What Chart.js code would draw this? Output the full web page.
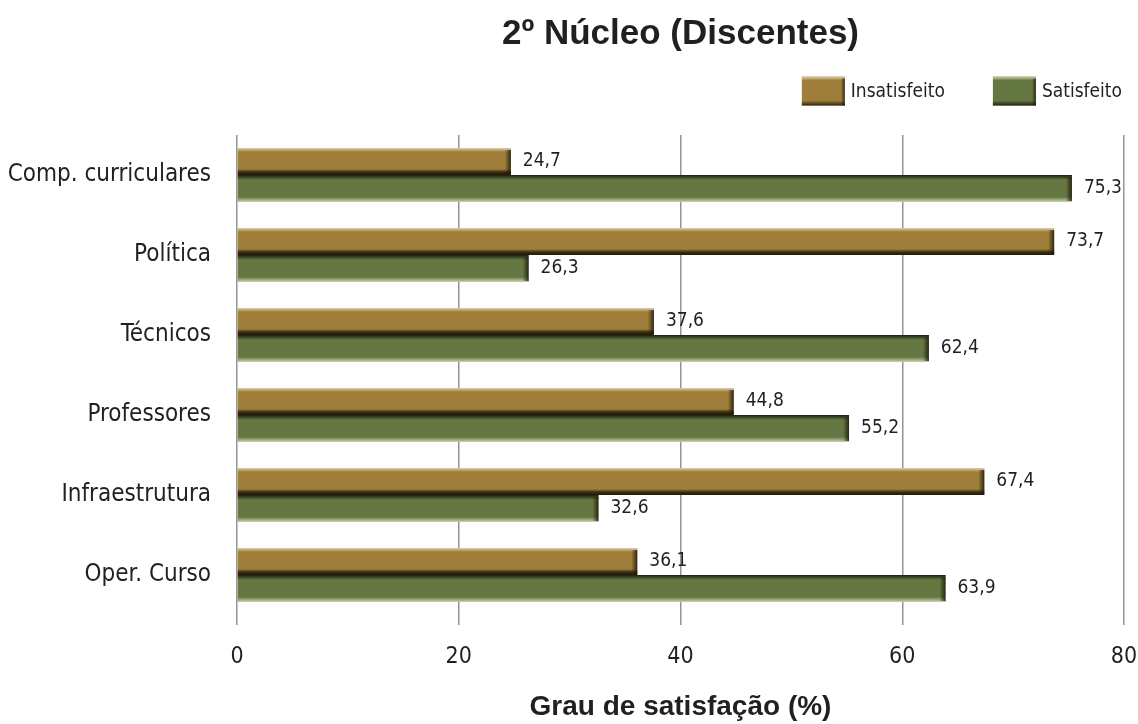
<!DOCTYPE html>
<html lang="pt">
<head>
<meta charset="utf-8">
<title>2º Núcleo (Discentes)</title>
<script src="https://cdn.jsdelivr.net/npm/chart.js@4/dist/chart.umd.min.js"></script>
<style>
  html, body { margin: 0; padding: 0; background: #ffffff; }
  #wrap { width: 1138px; height: 724px; }
</style>
</head>
<body>
<div id="wrap"><canvas id="chart"></canvas></div>
<script>
// Categories (top to bottom) and the share of respondents per answer, in %
const categories = ['Comp. curriculares', 'Política', 'Técnicos', 'Professores', 'Infraestrutura', 'Oper. Curso'];
const insatisfeito = [24.7, 73.7, 37.6, 44.8, 67.4, 36.1];
const satisfeito = [75.3, 26.3, 62.4, 55.2, 32.6, 63.9];
const xTicks = [0, 20, 40, 60, 80];

const NARROW = "'Liberation Sans Narrow', 'Arial Narrow', 'DejaVu Sans Condensed', sans-serif";
const BOLD = "'Liberation Sans', Arial, sans-serif";
const TEXT = '#231f20';
const GRID = '#949494';
const GOLD = '#9e7e3a';
const GREEN = '#657841';

// Bevel / shadow shading laid over each bar
const bevelPlugin = {
  id: 'bevel',
  afterDatasetsDraw(chart) {
    const ctx = chart.ctx;
    chart.data.datasets.forEach((ds, di) => {
      const meta = chart.getDatasetMeta(di);
      if (meta.hidden) return;
      meta.data.forEach(el => {
        const p = el.getProps(['x', 'y', 'base', 'height'], true);
        const left = Math.min(p.base, p.x), right = Math.max(p.base, p.x);
        const top = p.y - p.height / 2, bottom = p.y + p.height / 2;
        const w = right - left;
        ctx.save();
        let g;
        if (di === 0) {
          g = ctx.createLinearGradient(0, top, 0, top + 4);
          g.addColorStop(0, 'rgba(235,220,185,0.85)');
          g.addColorStop(1, 'rgba(235,220,185,0)');
          ctx.fillStyle = g; ctx.fillRect(left, top, w, 4);
          g = ctx.createLinearGradient(0, bottom - 6, 0, bottom);
          g.addColorStop(0, 'rgba(35,26,8,0)');
          g.addColorStop(0.5, 'rgba(35,26,8,0.8)');
          g.addColorStop(1, 'rgba(25,18,5,0.95)');
          ctx.fillStyle = g; ctx.fillRect(left, bottom - 6, w, 6);
        } else {
          g = ctx.createLinearGradient(0, top, 0, top + 5);
          g.addColorStop(0, 'rgba(25,25,10,0.95)');
          g.addColorStop(1, 'rgba(25,25,10,0)');
          ctx.fillStyle = g; ctx.fillRect(left, top, w, 5);
          g = ctx.createLinearGradient(0, bottom - 5, 0, bottom);
          g.addColorStop(0, 'rgba(220,226,205,0)');
          g.addColorStop(1, 'rgba(220,226,205,0.85)');
          ctx.fillStyle = g; ctx.fillRect(left, bottom - 5, w, 5);
        }
        g = ctx.createLinearGradient(right - 6, 0, right, 0);
        g.addColorStop(0, 'rgba(30,24,8,0)');
        g.addColorStop(1, 'rgba(30,24,8,0.85)');
        ctx.fillStyle = g; ctx.fillRect(right - 6, top + 2, 6, p.height - 3);
        ctx.restore();
      });
    });
  }
};

// Value labels to the right of each bar
const valueLabelPlugin = {
  id: 'valueLabels',
  afterDatasetsDraw(chart) {
    const ctx = chart.ctx;
    ctx.save();
    ctx.font = '19px ' + NARROW;
    ctx.fillStyle = TEXT;
    ctx.textAlign = 'left';
    ctx.textBaseline = 'middle';
    chart.data.datasets.forEach((ds, di) => {
      const meta = chart.getDatasetMeta(di);
      meta.data.forEach((el, i) => {
        const p = el.getProps(['x', 'y'], true);
        const txt = ds.data[i].toFixed(1).replace('.', ',');
        ctx.fillText(txt, p.x + 12, p.y);
      });
    });
    ctx.restore();
  }
};

// Legend swatches with a bevelled look, top right above the plot
const legendPlugin = {
  id: 'bevelLegend',
  afterDraw(chart) {
    const ctx = chart.ctx;
    const area = chart.chartArea;
    const boxW = 43, boxH = 29, gapText = 6, gapItem = 48;
    const cy = 91;
    ctx.save();
    ctx.font = '19px ' + NARROW;
    ctx.textBaseline = 'middle';
    ctx.textAlign = 'left';
    const items = chart.data.datasets.map(ds => ({ text: ds.label, color: ds.backgroundColor }));
    const widths = items.map(it => boxW + gapText + ctx.measureText(it.text).width);
    const total = widths.reduce((a, b) => a + b, 0) + gapItem * (items.length - 1);
    let x = area.right - 2 - total;
    items.forEach((it, i) => {
      const top = cy - boxH / 2;
      ctx.fillStyle = it.color;
      ctx.fillRect(x, top, boxW, boxH);
      let g = ctx.createLinearGradient(0, top, 0, top + 4);
      g.addColorStop(0, 'rgba(240,228,200,0.8)');
      g.addColorStop(1, 'rgba(240,228,200,0)');
      ctx.fillStyle = g; ctx.fillRect(x, top, boxW, 4);
      g = ctx.createLinearGradient(0, top + boxH - 5, 0, top + boxH);
      g.addColorStop(0, 'rgba(30,24,8,0)');
      g.addColorStop(1, 'rgba(30,24,8,0.9)');
      ctx.fillStyle = g; ctx.fillRect(x, top + boxH - 5, boxW, 5);
      g = ctx.createLinearGradient(x + boxW - 4, 0, x + boxW, 0);
      g.addColorStop(0, 'rgba(30,24,8,0)');
      g.addColorStop(1, 'rgba(30,24,8,0.8)');
      ctx.fillStyle = g; ctx.fillRect(x + boxW - 4, top + 2, 4, boxH - 2);
      ctx.fillStyle = TEXT;
      ctx.fillText(it.text, x + boxW + gapText, cy + 1);
      x += widths[i] + gapItem;
    });
    ctx.restore();
  }
};

new Chart(document.getElementById('chart'), {
  type: 'bar',
  data: {
    labels: categories,
    datasets: [
      { label: 'Insatisfeito', data: insatisfeito, backgroundColor: GOLD, borderWidth: 0 },
      { label: 'Satisfeito', data: satisfeito, backgroundColor: GREEN, borderWidth: 0 }
    ]
  },
  options: {
    indexAxis: 'y',
    responsive: true,
    maintainAspectRatio: false,
    animation: false,
    layout: { padding: { top: 0, right: 14, bottom: 0, left: 0 } },
    datasets: { bar: { categoryPercentage: 0.675, barPercentage: 1.0 } },
    plugins: {
      legend: { display: false },
      tooltip: { enabled: false },
      title: {
        display: true,
        text: '2º Núcleo (Discentes)',
        fullSize: false,
        color: TEXT,
        font: { family: BOLD, size: 35, weight: 'bold' },
        padding: { top: 13, bottom: 80 }
      }
    },
    scales: {
      x: {
        min: 0,
        max: 80,
        afterBuildTicks(scale) { scale.ticks = xTicks.map(v => ({ value: v })); },
        afterFit(scale) {
          scale.height = 109;
          scale.paddingLeft = 0;
          scale.paddingRight = 0;
        },
        grid: { color: GRID, lineWidth: 1.5, drawTicks: true, tickLength: 10, tickColor: GRID },
        border: { display: false },
        ticks: { color: TEXT, font: { family: NARROW, size: 23 }, padding: 18 },
        title: {
          display: true,
          text: 'Grau de satisfação (%)',
          color: TEXT,
          font: { family: BOLD, size: 28, weight: 'bold' },
          padding: { top: 0, bottom: 0 }
        }
      },
      y: {
        afterFit(scale) { scale.width = 237; },
        grid: { display: false, drawTicks: false },
        border: { display: false },
        ticks: { color: TEXT, font: { family: NARROW, size: 24 }, padding: 26 }
      }
    }
  },
  plugins: [bevelPlugin, valueLabelPlugin, legendPlugin]
});
</script>
</body>
</html>
